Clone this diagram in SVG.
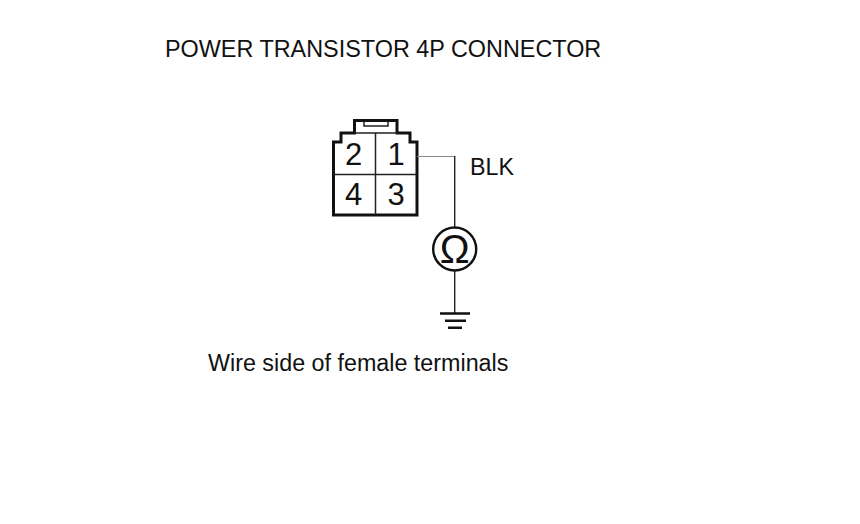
<svg xmlns="http://www.w3.org/2000/svg" width="860" height="524" viewBox="0 0 860 524">
<style>
.t{font-family:"Liberation Sans",Arial,sans-serif;fill:#111}
.l{font-size:23.3px}
.n{font-size:31px;text-anchor:middle}
.o{fill:none;stroke:#111;stroke-width:3}
.i{fill:none;stroke:#222;stroke-width:1.5}
.w{fill:none;stroke:#222;stroke-width:1.4}
.g{fill:none;stroke:#111;stroke-width:2.400}
</style>
<rect width="860" height="524" fill="#fff"/>
<text id="title" class="t" font-size="23.4" x="165" y="57">POWER TRANSISTOR 4P CONNECTOR</text>
<g id="connector-4p">
<path class="o" d="M333.500 142V215H417V142H410V133H397V120.500H354.500V133H341V142Z"/>
<path class="i" d="M354.500 133H397M364 121V126H388V121M375.500 133V215M333.500 174.500H417"/>
<text class="t n" x="353.500" y="165">2</text>
<text class="t n" x="396" y="165">1</text>
<text class="t n" x="353.500" y="205">4</text>
<text class="t n" x="396" y="205">3</text>
</g>
<g id="connectors">
<path fill="none" stroke="#888" stroke-width="1.200" d="M417 156.500H455"/>
<path class="w" d="M454.700 156V227M454.700 271V313"/>
</g>
<text id="wire-color" class="t l" x="470" y="175">BLK</text>
<g id="ohmmeter">
<circle class="g" cx="454.700" cy="249" r="21.500" fill="#fff"/>
<text class="t" x="454.700" y="263" font-size="40" text-anchor="middle">Ω</text>
</g>
<g id="ground">
<path class="g" d="M440 313.500H470M445 320.700H466M448 327.700H462"/>
</g>
<text id="caption" class="t l" x="208" y="371">Wire side of female terminals</text>
</svg>
